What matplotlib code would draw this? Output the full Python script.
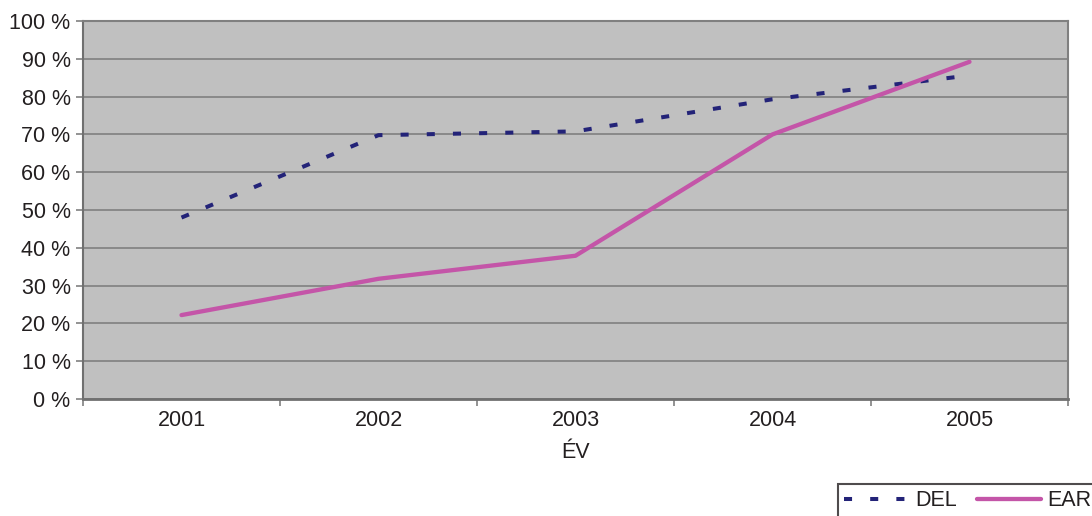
import matplotlib
matplotlib.use("Agg")
import matplotlib.pyplot as plt
import numpy as np

plt.rcParams["font.family"] = ["Liberation Sans", "DejaVu Sans"]

# adatok
years = ["2001", "2002", "2003", "2004", "2005"]
del_vals = [48.0, 69.8, 70.8, 79.3, 85.6]
ear_vals = [22.2, 31.8, 37.9, 70.0, 89.2]
y_ticks = list(range(0, 101, 10))
y_labels = [f"{v} %" for v in y_ticks]

W, H = 1092, 516
fig = plt.figure(figsize=(W / 100, H / 100), dpi=100)
ax = fig.add_axes([83 / W, 1 - 399 / H, (1068 - 83) / W, (399 - 21) / H])
ax.set_facecolor("#C0C0C0")

x = np.arange(len(years))
ax.plot(x, del_vals, color="#232378", lw=2.9, linestyle=(0, (2, 4.5)),
        dash_capstyle="butt", label="DEL", zorder=3)
ax.plot(x, ear_vals, color="#C455A8", lw=3.1, solid_capstyle="round",
        label="EAR", zorder=3)

ax.set_xlim(-0.5, len(years) - 0.5)
ax.set_ylim(0, 100)
ax.set_yticks(y_ticks)
ax.set_yticklabels(y_labels, fontsize=15.5, color="#231F20")
ax.set_xticks(x)
ax.set_xticklabels(years, fontsize=15.5, color="#231F20")
ax.set_xticks(np.arange(-0.5, len(years)), minor=True)
ax.tick_params(axis="x", which="major", length=0, pad=8)
ax.tick_params(axis="x", which="minor", length=5, color="#808080", width=1.2)
ax.tick_params(axis="y", length=5, color="#808080", width=1.2, pad=4)

ax.yaxis.grid(True, color="#808080", lw=1.2)
ax.set_axisbelow(True)
for s in ["top", "right"]:
    ax.spines[s].set_color("#808080")
    ax.spines[s].set_linewidth(1.5)
ax.spines["left"].set_color("#707070")
ax.spines["left"].set_linewidth(1.5)
ax.spines["bottom"].set_color("#707070")
ax.spines["bottom"].set_linewidth(2)

ax.set_xlabel("ÉV", fontsize=15.5, color="#231F20", labelpad=8)

leg = fig.legend(loc="upper left", bbox_to_anchor=(838 / W, 1 - 484 / H),
                 ncol=2, frameon=True, fancybox=False, fontsize=15.5,
                 handlelength=3.0, handletextpad=0.3, columnspacing=0.9,
                 borderpad=0.3, borderaxespad=0)
leg.get_frame().set_edgecolor("#231F20")
leg.get_frame().set_linewidth(1.5)
for t in leg.get_texts():
    t.set_color("#231F20")

fig.savefig("out.png", dpi=100)
